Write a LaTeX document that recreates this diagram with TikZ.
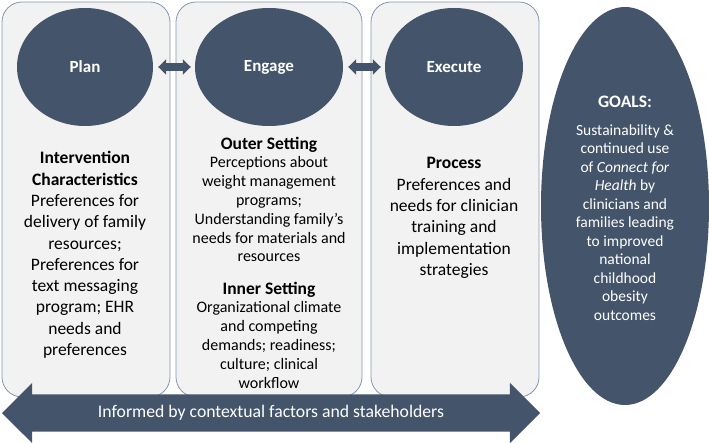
\documentclass[tikz,border=0pt]{standalone}
\usepackage{fontspec}
\setmainfont{Carlito}
\usepackage{xcolor}
\usetikzlibrary{shapes,arrows.meta,calc,positioning}
\definecolor{navy}{HTML}{44546A}
\definecolor{boxline}{HTML}{8497B0}
\definecolor{boxfill}{HTML}{F2F2F2}
\begin{document}
\begin{tikzpicture}[
      x = 1pt, y = -1pt,
      > = {Triangle[length=8pt,width=15pt]}
    ]
    \tikzstyle{phase box} = [draw=boxline, fill=boxfill, rounded corners=20pt, line width=0.8pt, minimum height=395pt]
    \tikzstyle{phase node} = [ellipse, fill=navy, text=white, font=\fontsize{17}{20}\selectfont\bfseries, minimum height=118pt]
    \tikzstyle{box text} = [align=center, inner sep=0pt, font=\fontsize{17.5}{21.3}\selectfont]
    \tikzstyle{small text} = [align=center, inner sep=0pt, font=\fontsize{16}{18.8}\selectfont]
    \tikzstyle{link} = [<->, navy, line width=8pt, shorten <=5pt, shorten >=4pt]
    \useasboundingbox (0,0) rectangle (709,443);
    % phase boxes
    \node[phase box, minimum width=168pt] (planbox) at (86,199.5) {};
    \node[phase box, minimum width=186pt] (engagebox) at (269,199.5) {};
    \node[phase box, minimum width=168pt] (executebox) at (455,199.5) {};
    % phase ellipses
    \node[phase node, minimum width=136pt] (plan) at (85,67) {Plan};
    \node[phase node, minimum width=148pt] (engage) at (269,67) {Engage};
    \node[phase node, minimum width=138pt] (execute) at (454,67) {Execute};
    \draw[link] (plan.east) -- (engage.west);
    \draw[link] (engage.east) -- (execute.west);
    % box texts
    \node[box text] (plantext) at (85,255) {\textbf{Intervention}\\\textbf{Characteristics}\\Preferences for\\delivery of family\\resources;\\Preferences for\\text messaging\\program; EHR\\needs and\\preferences};
    \node[small text] (outer) at (269,199.5) {\textbf{\fontsize{17.5}{18.8}\selectfont Outer Setting}\\Perceptions about\\weight management\\programs;\\Understanding family’s\\needs for materials and\\resources};
    \node[small text] (inner) at (269,335) {\textbf{\fontsize{17.5}{18.8}\selectfont Inner Setting}\\Organizational climate\\and competing\\demands; readiness;\\culture; clinical\\workflow};
    \node[box text] (process) at (454,218) {\textbf{Process}\\Preferences and\\needs for clinician\\training and\\implementation\\strategies};
    % goals
    \node[ellipse, fill=navy, minimum width=168pt, minimum height=398pt] (goals) at (625,206) {};
    \node[text=white, font=\fontsize{17.5}{21}\selectfont\bfseries, inner sep=0pt] (goalstitle) at (625,102) {GOALS:};
    \node[small text, text=white, font=\fontsize{15.5}{18.5}\selectfont] (goalstext) at (625,222.5) {Sustainability \&\\continued use\\of \textit{Connect for}\\\textit{Health} by\\clinicians and\\families leading\\to improved\\national\\childhood\\obesity\\outcomes};
    % context arrow
    \node[double arrow, fill=navy, text=white, font=\fontsize{17.7}{21}\selectfont,
          minimum height=538pt, double arrow head extend=11.5pt,
          text height=12pt, text depth=3pt, inner ysep=11pt, inner xsep=0pt] (context) at (271,413) {Informed by contextual factors and stakeholders};
  \end{tikzpicture}
\end{document}
